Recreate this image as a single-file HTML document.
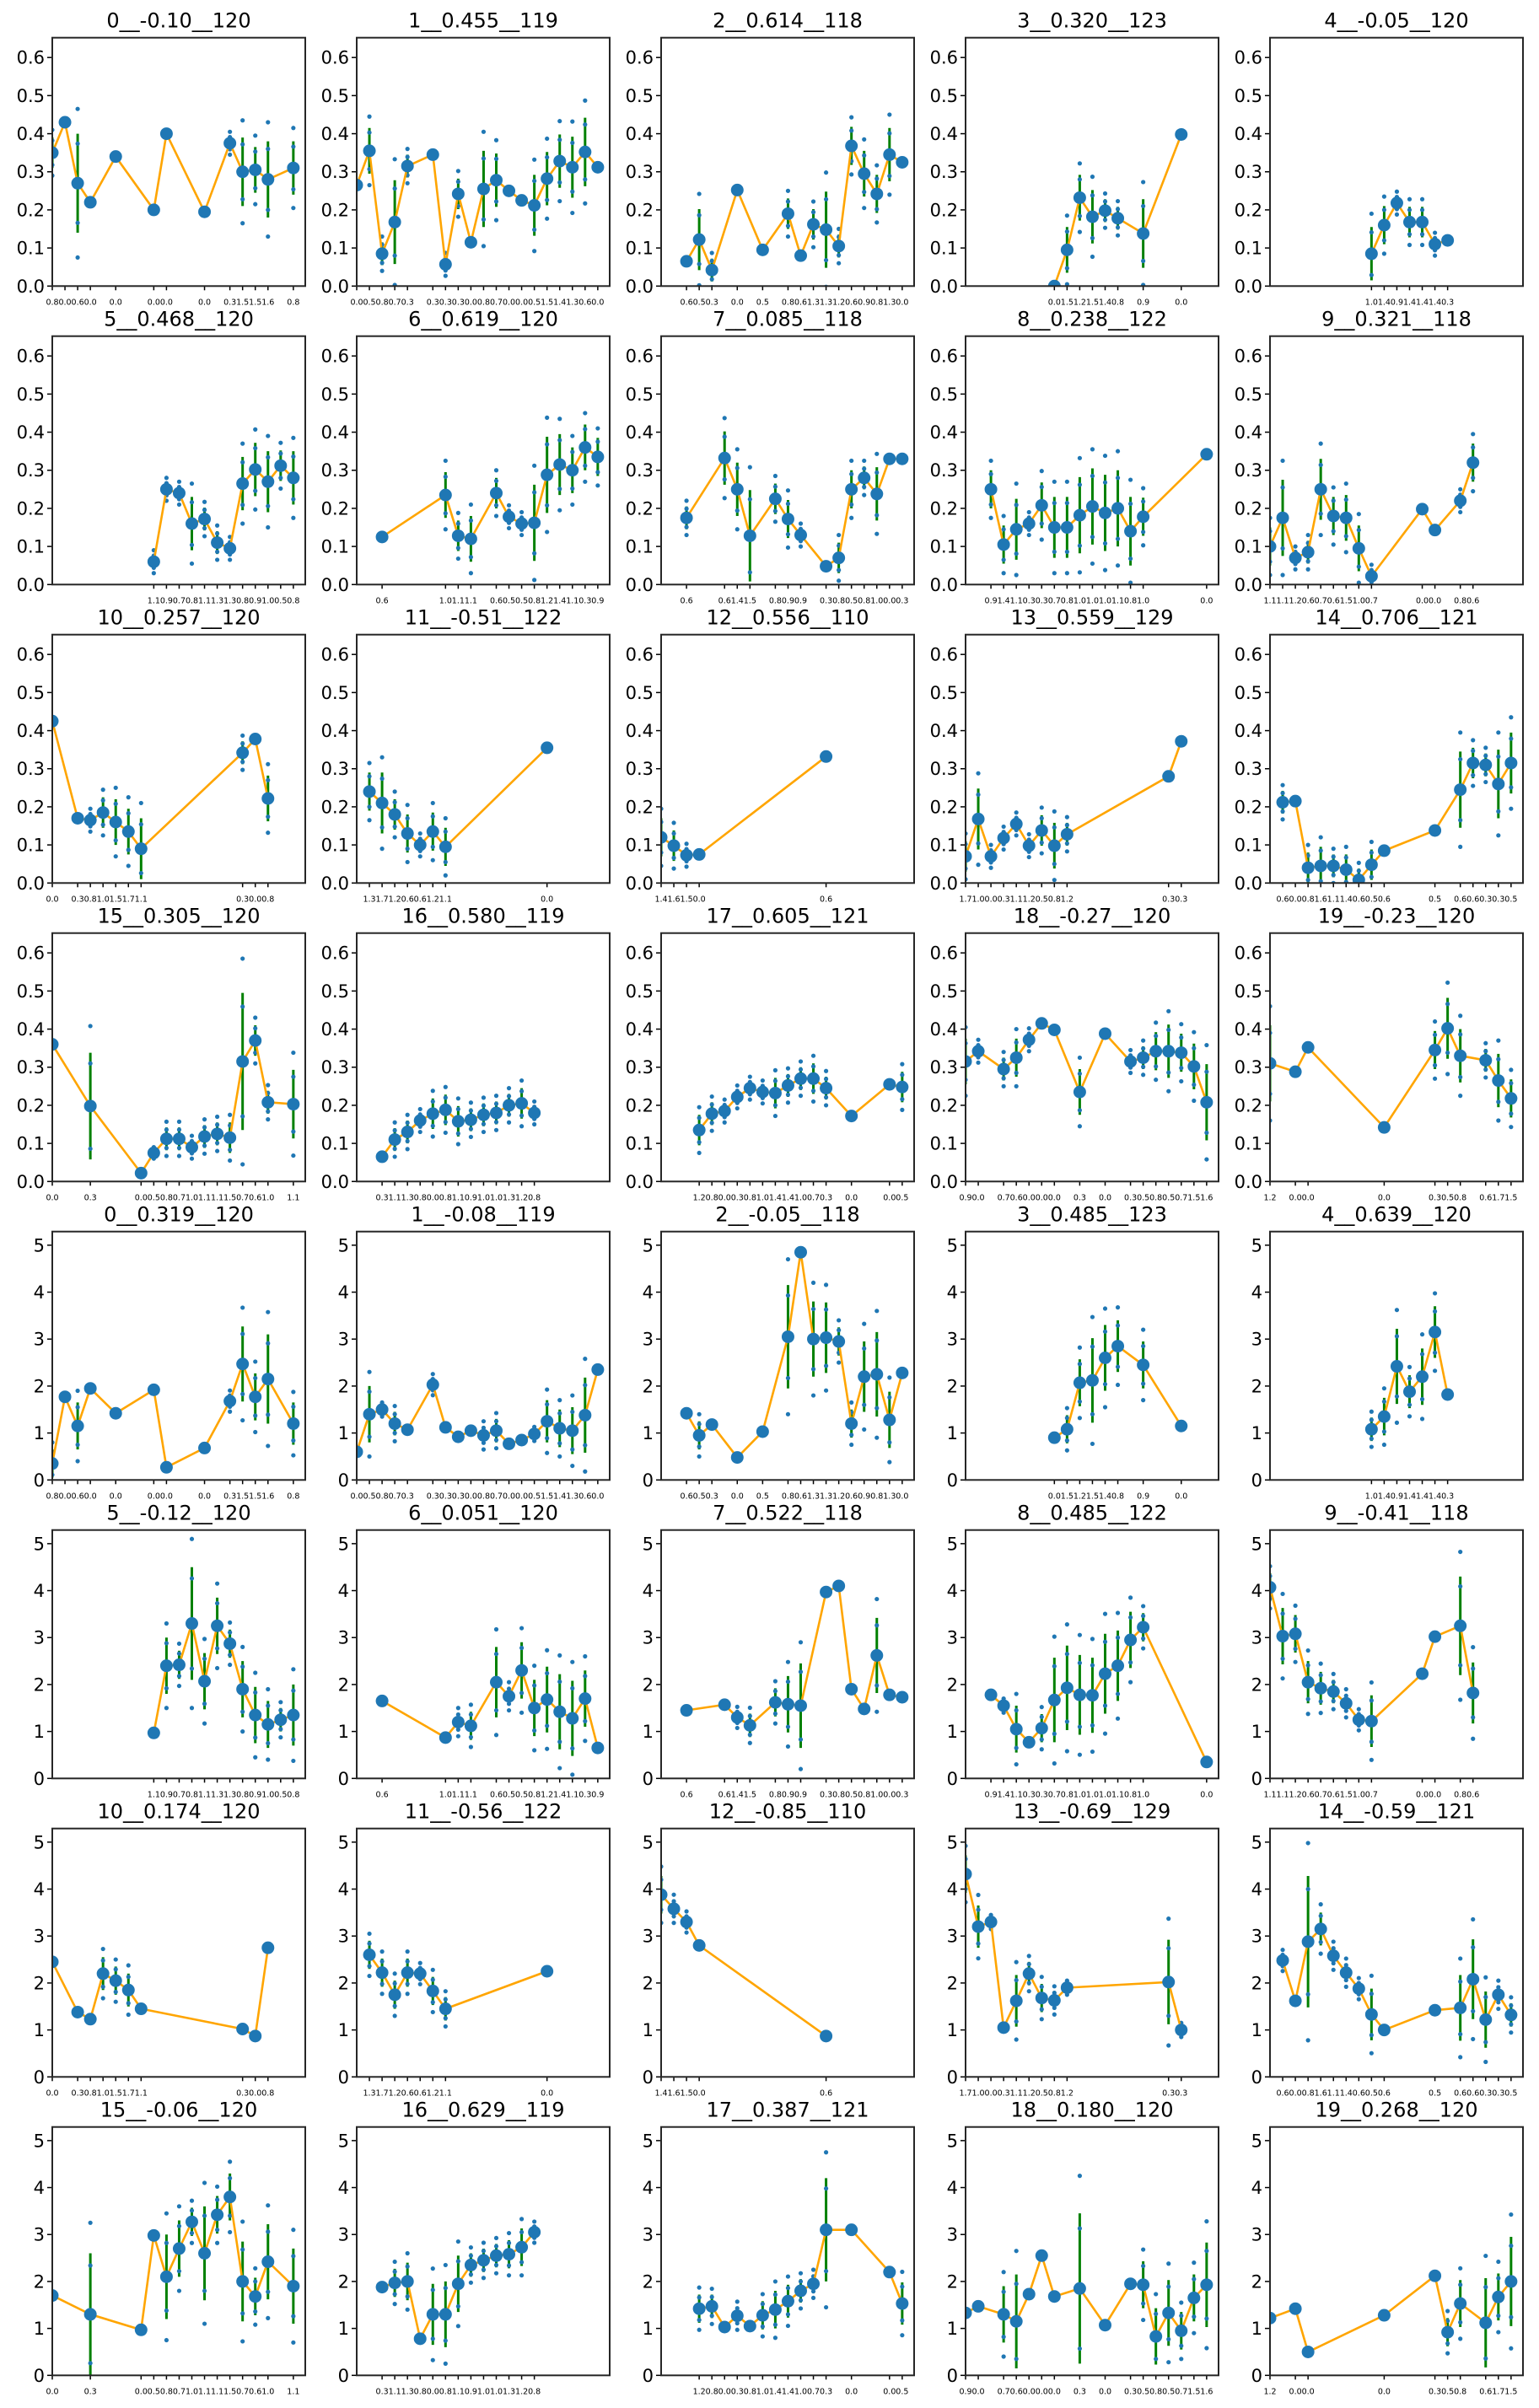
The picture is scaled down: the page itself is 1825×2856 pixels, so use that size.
<!DOCTYPE html>
<html><head><meta charset="utf-8">
<style>
html,body{margin:0;padding:0;background:#fff;}
svg{display:block;font-family:"DejaVu Sans","Liberation Sans",sans-serif;}
</style></head>
<body>
<svg id="fig" width="1825" height="2856" viewBox="0 0 1825 2856" xmlns="http://www.w3.org/2000/svg"></svg>
<script>
// ---- shared x slots and tick labels per panel index ----
const slots = [
 [0,1,2,3,5,8,9,12,14,15,16,17,19],
 [0,1,2,3,4,6,7,8,9,10,11,12,13,14,15,16,17,18,19],
 [2,3,4,6,8,10,11,12,13,14,15,16,17,18,19],
 [7,8,9,10,11,12,14,17],
 [8,9,10,11,12,13,14],
 [8,9,10,11,12,13,14,15,16,17,18,19],
 [2,7,8,9,11,12,13,14,15,16,17,18,19],
 [2,5,6,7,9,10,11,13,14,15,16,17,18,19],
 [2,3,4,5,6,7,8,9,10,11,12,13,14,19],
 [0,1,2,3,4,5,6,7,8,12,13,15,16],
 [0,2,3,4,5,6,7,15,16,17],
 [1,2,3,4,5,6,7,15],
 [0,1,2,3,13],
 [0,1,2,3,4,5,6,7,8,16,17],
 [1,2,3,4,5,6,7,8,9,13,15,16,17,18,19],
 [0,3,7,8,9,10,11,12,13,14,15,16,17,19],
 [2,3,4,5,6,7,8,9,10,11,12,13,14],
 [3,4,5,6,7,8,9,10,11,12,13,15,18,19],
 [0,1,3,4,5,6,7,9,11,13,14,15,16,17,18,19],
 [0,2,3,9,13,14,15,17,18,19]
];
const tickLabels = [
 ["0.8","0.0","0.6","0.0","0.0","0.0","0.0","0.0","0.3","1.5","1.5","1.6","0.8"],
 ["0.0","0.5","0.8","0.7","0.3","0.3","0.3","0.3","0.0","0.8","0.7","0.0","0.0","0.5","1.5","1.4","1.3","0.6","0.0"],
 ["0.6","0.5","0.3","0.0","0.5","0.8","0.6","1.3","1.3","1.2","0.6","0.9","0.8","1.3","0.0"],
 ["0.0","1.5","1.2","1.5","1.4","0.8","0.9","0.0"],
 ["1.0","1.4","0.9","1.4","1.4","1.4","0.3"],
 ["1.1","0.9","0.7","0.8","1.1","1.3","1.3","0.8","0.9","1.0","0.5","0.8"],
 ["0.6","1.0","1.1","1.1","0.6","0.5","0.5","0.8","1.2","1.4","1.1","0.3","0.9"],
 ["0.6","0.6","1.4","1.5","0.8","0.9","0.9","0.3","0.8","0.5","0.8","1.0","0.0","0.3"],
 ["0.9","1.4","1.1","0.3","0.3","0.7","0.8","1.0","1.0","1.0","1.1","0.8","1.0","0.0"],
 ["1.1","1.1","1.2","0.6","0.7","0.6","1.5","1.0","0.7","0.0","0.0","0.8","0.6"],
 ["0.0","0.3","0.8","1.0","1.5","1.7","1.1","0.3","0.0","0.8"],
 ["1.3","1.7","1.2","0.6","0.6","1.2","1.1","0.0"],
 ["1.4","1.6","1.5","0.0","0.6"],
 ["1.7","1.0","0.0","0.3","1.1","1.2","0.5","0.8","1.2","0.3","0.3"],
 ["0.6","0.0","0.8","1.6","1.1","1.4","0.6","0.5","0.6","0.5","0.6","0.6","0.3","0.3","0.5"],
 ["0.0","0.3","0.0","0.5","0.8","0.7","1.0","1.1","1.1","1.5","0.7","0.6","1.0","1.1"],
 ["0.3","1.1","1.3","0.8","0.0","0.8","1.1","0.9","1.0","1.0","1.3","1.2","0.8"],
 ["1.2","0.8","0.0","0.3","0.8","1.0","1.4","1.4","1.0","0.7","0.3","0.0","0.0","0.5"],
 ["0.9","0.0","0.7","0.6","0.0","0.0","0.0","0.3","0.0","0.3","0.5","0.8","0.5","0.7","1.5","1.6"],
 ["1.2","0.0","0.0","0.0","0.3","0.5","0.8","0.6","1.7","1.5"]
];
// ---- top block (ratio) titles, means, error half-widths ----
const topTitles = ["0__-0.10__120","1__0.455__119","2__0.614__118","3__0.320__123","4__-0.05__120","5__0.468__120","6__0.619__120","7__0.085__118","8__0.238__122","9__0.321__118","10__0.257__120","11__-0.51__122","12__0.556__110","13__0.559__129","14__0.706__121","15__0.305__120","16__0.580__119","17__0.605__121","18__-0.27__120","19__-0.23__120"];
const topMeans = [
 [0.35,0.43,0.27,0.22,0.34,0.20,0.40,0.195,0.375,0.30,0.305,0.28,0.31],
 [0.265,0.355,0.085,0.168,0.315,0.345,0.057,0.242,0.115,0.255,0.278,0.25,0.225,0.212,0.282,0.328,0.312,0.352,0.312],
 [0.065,0.122,0.042,0.252,0.095,0.19,0.08,0.162,0.148,0.105,0.368,0.295,0.242,0.345,0.325],
 [0.0,0.095,0.232,0.182,0.198,0.178,0.138,0.398],
 [0.085,0.16,0.218,0.168,0.168,0.11,0.12],
 [0.06,0.25,0.24,0.16,0.172,0.11,0.095,0.265,0.302,0.27,0.312,0.28],
 [0.125,0.235,0.128,0.12,0.24,0.178,0.16,0.162,0.288,0.315,0.30,0.36,0.335],
 [0.175,0.332,0.25,0.128,0.225,0.172,0.13,0.048,0.07,0.25,0.28,0.238,0.33,0.33],
 [0.25,0.105,0.145,0.16,0.208,0.15,0.15,0.182,0.205,0.188,0.20,0.14,0.178,0.342],
 [0.10,0.175,0.07,0.085,0.25,0.18,0.175,0.095,0.022,0.198,0.143,0.22,0.32],
 [0.425,0.17,0.165,0.185,0.16,0.135,0.09,0.342,0.378,0.222],
 [0.24,0.21,0.18,0.13,0.10,0.135,0.095,0.355],
 [0.12,0.098,0.073,0.075,0.332],
 [0.07,0.168,0.07,0.118,0.155,0.098,0.138,0.098,0.128,0.28,0.372],
 [0.212,0.215,0.04,0.045,0.045,0.035,0.008,0.048,0.085,0.138,0.245,0.315,0.31,0.26,0.315],
 [0.36,0.198,0.022,0.075,0.112,0.112,0.09,0.118,0.125,0.115,0.315,0.37,0.208,0.203],
 [0.065,0.11,0.13,0.16,0.178,0.188,0.158,0.162,0.175,0.18,0.20,0.205,0.18],
 [0.135,0.178,0.185,0.222,0.245,0.235,0.232,0.252,0.27,0.27,0.245,0.172,0.255,0.248],
 [0.315,0.342,0.295,0.325,0.372,0.415,0.398,0.235,0.388,0.315,0.325,0.342,0.342,0.338,0.302,0.208],
 [0.31,0.288,0.352,0.142,0.345,0.402,0.33,0.318,0.265,0.218]
];
const topErr = [
 [0.04,0,0.13,0,0,0,0,0,0.02,0.09,0.06,0.1,0.07],
 [0,0.06,0.03,0.11,0.03,0,0.02,0.04,0,0.1,0.07,0,0,0.08,0.07,0.07,0.08,0.09,0],
 [0,0.08,0.03,0,0,0.04,0,0.04,0.1,0.03,0.05,0.06,0.05,0.07,0],
 [0,0.06,0.06,0.07,0.03,0.03,0.09,0],
 [0.07,0.05,0.02,0.04,0.04,0.02,0],
 [0.02,0.02,0.02,0.07,0.03,0.03,0.02,0.07,0.07,0.08,0.04,0.07],
 [0,0.06,0.04,0.06,0.04,0.02,0.02,0.1,0.1,0.08,0.06,0.06,0.05],
 [0.03,0.07,0.07,0.12,0.04,0.05,0.02,0,0.04,0.05,0.03,0.07,0,0],
 [0.05,0.05,0.08,0.02,0.06,0.08,0.08,0.1,0.1,0.1,0.1,0.09,0.05,0],
 [0.05,0.1,0.02,0.03,0.08,0.05,0.06,0.06,0.02,0,0,0.02,0.05],
 [0,0,0.02,0.04,0.06,0.06,0.08,0.03,0,0.06],
 [0.05,0.08,0.04,0.05,0.02,0.05,0.05,0],
 [0.05,0.04,0.02,0,0],
 [0.04,0.08,0.02,0.02,0.02,0.02,0.04,0.06,0.03,0,0],
 [0.03,0,0.04,0.05,0.03,0.04,0.03,0.04,0,0,0.1,0.04,0.03,0.09,0.08],
 [0,0.14,0,0.01,0.03,0.03,0.02,0.03,0.03,0.04,0.18,0.04,0.03,0.09],
 [0,0.03,0.03,0.02,0.04,0.04,0.04,0.03,0.03,0.03,0.03,0.04,0.02],
 [0.04,0.03,0.02,0.02,0.02,0.02,0.04,0.03,0.03,0.04,0.03,0,0,0.04],
 [0.06,0.02,0.03,0.05,0.02,0,0,0.06,0,0.02,0.03,0.05,0.07,0.05,0.06,0.1],
 [0.1,0,0,0,0.05,0.08,0.07,0.03,0.07,0.05]
];
// ---- bottom block ----
const botTitles = ["0__0.319__120","1__-0.08__119","2__-0.05__118","3__0.485__123","4__0.639__120","5__-0.12__120","6__0.051__120","7__0.522__118","8__0.485__122","9__-0.41__118","10__0.174__120","11__-0.56__122","12__-0.85__110","13__-0.69__129","14__-0.59__121","15__-0.06__120","16__0.629__119","17__0.387__121","18__0.180__120","19__0.268__120"];
const botMeans = [
 [0.35,1.77,1.15,1.95,1.42,1.92,0.27,0.68,1.68,2.47,1.77,2.15,1.2],
 [0.6,1.4,1.5,1.2,1.07,2.03,1.12,0.92,1.05,0.95,1.05,0.77,0.85,0.98,1.25,1.1,1.05,1.38,2.35],
 [1.42,0.95,1.18,0.48,1.03,3.05,4.85,3.0,3.03,2.95,1.2,2.2,2.25,1.28,2.28],
 [0.9,1.08,2.07,2.12,2.6,2.85,2.45,1.15],
 [1.08,1.35,2.42,1.88,2.2,3.15,1.82],
 [0.97,2.4,2.42,3.3,2.07,3.25,2.87,1.9,1.35,1.15,1.25,1.35],
 [1.65,0.87,1.2,1.12,2.05,1.75,2.3,1.5,1.68,1.42,1.28,1.7,0.65],
 [1.45,1.57,1.3,1.13,1.62,1.58,1.55,3.97,4.1,1.9,1.48,2.62,1.78,1.73],
 [1.78,1.55,1.05,0.77,1.07,1.67,1.93,1.78,1.77,2.23,2.4,2.95,3.22,0.35],
 [4.07,3.03,3.08,2.05,1.92,1.85,1.6,1.25,1.22,2.23,3.02,3.25,1.82],
 [2.45,1.38,1.23,2.2,2.05,1.85,1.45,1.02,0.87,2.75],
 [2.6,2.22,1.75,2.22,2.2,1.83,1.45,2.25],
 [3.88,3.58,3.3,2.8,0.87],
 [4.32,3.2,3.3,1.05,1.62,2.2,1.68,1.63,1.9,2.02,1.0],
 [2.48,1.62,2.88,3.15,2.58,2.22,1.88,1.33,1.0,1.42,1.47,2.08,1.22,1.75,1.32],
 [1.7,1.3,0.97,2.98,2.1,2.7,3.27,2.6,3.42,3.8,2.0,1.68,2.42,1.9],
 [1.88,1.97,2.0,0.78,1.3,1.3,1.95,2.35,2.45,2.55,2.58,2.73,3.05],
 [1.42,1.47,1.03,1.27,1.05,1.28,1.4,1.58,1.8,1.95,3.1,3.1,2.2,1.53],
 [1.33,1.47,1.3,1.15,1.73,2.55,1.68,1.85,1.07,1.95,1.93,0.83,1.33,0.95,1.65,1.93],
 [1.22,1.42,0.5,1.28,2.12,0.92,1.53,1.12,1.67,2.0]
];
const botErr = [
 [0.3,0,0.5,0,0,0,0,0,0.15,0.8,0.5,0.95,0.45],
 [0,0.6,0.1,0.25,0,0.15,0,0,0,0.2,0.25,0,0,0.1,0.45,0.4,0.5,0.8,0],
 [0,0.3,0,0,0,1.1,0,0.8,0.75,0.3,0.3,0.75,0.9,0.6,0],
 [0,0.3,0.5,0.9,0.7,0.55,0.5,0],
 [0.25,0.4,0.8,0.35,0.6,0.55,0],
 [0,0.6,0.3,1.2,0.6,0.6,0.3,0.6,0.6,0.5,0.25,0.65],
 [0,0,0.2,0.3,0.75,0.2,0.6,0.6,0.7,0.8,0.8,0.6,0],
 [0,0,0.15,0.25,0.3,0.6,0.9,0,0,0,0,0.8,0,0],
 [0.05,0.1,0.5,0.05,0.3,0.9,0.9,0.85,0.8,0.85,0.75,0.6,0.3,0],
 [0.3,0.6,0.4,0.45,0.35,0.25,0.2,0.15,0.55,0,0.05,1.05,0.65],
 [0,0,0,0.35,0.3,0.35,0,0,0,0],
 [0.3,0.3,0.3,0.3,0.15,0.3,0.25,0],
 [0.4,0.2,0.15,0,0],
 [0.4,0.45,0.1,0,0.55,0.25,0.3,0.2,0.1,0.9,0.1],
 [0.15,0,1.4,0.35,0.2,0.2,0.15,0.55,0,0,0.7,0.85,0.6,0.2,0.25],
 [0,1.3,0,0,0.9,0.6,0.3,1.0,0.4,0.5,0.85,0.4,0.8,0.8],
 [0,0.3,0.4,0,0.65,0.7,0.6,0.25,0.25,0.25,0.3,0.4,0.15],
 [0.3,0.25,0,0.2,0,0.3,0.4,0.35,0.25,0.2,1.1,0,0,0.45],
 [0,0,0.6,1.0,0,0,0,1.6,0,0,0.5,0.6,0.7,0.4,0.5,0.9],
 [0,0,0,0,0,0.3,0.5,0.95,0.5,0.95]
];
const topYTicks = ["0.0","0.1","0.2","0.3","0.4","0.5","0.6"];
const botYTicks = ["0","1","2","3","4","5"];

const NS = "http://www.w3.org/2000/svg";
const fig = document.getElementById('fig');
function mk(tag, attrs, parent){
  const e = document.createElementNS(NS, tag);
  for (const k in attrs) e.setAttribute(k, attrs[k]);
  (parent||fig).appendChild(e); return e;
}
const AX_W = 300, AX_H = 294.6, XMAX = 19.94;
const dotPattern = [-1.5,-0.8,0.8,1.5];

function drawPanel(row, col, idx, title, means, errs, ymax, yTicks, yStep, pname){
  const L = 62 + col*361, T = 44.7 + row*354;
  const xs = s => L + s*AX_W/XMAX;
  const ys = v => T + AX_H - v/ymax*AX_H;
  const g = mk('g', {});
  
  
  const t = mk('text', {x: L+AX_W/2, y: T-12, 'text-anchor':'middle', 'font-size':24, fill:'#000'}, g);
  t.textContent = title;
  
  
  yTicks.forEach((lab,i)=>{
    const y = ys(i*yStep);
    mk('line',{x1:L-6,x2:L,y1:y,y2:y,stroke:'#000','stroke-width':1.5},g);
    const tt = mk('text',{x:L-9,y:y+7.5,'text-anchor':'end','font-size':21,fill:'#000'},g);
    tt.textContent = lab;
    
    
  });
  const sl = slots[idx], labs = tickLabels[idx];
  sl.forEach((s,i)=>{
    const x = xs(s);
    mk('line',{x1:x,x2:x,y1:T+AX_H,y2:T+AX_H+5,stroke:'#000','stroke-width':1.5},g);
    const tt = mk('text',{x:x,y:T+AX_H+22,'text-anchor':'middle','font-size':9.5,fill:'#000'},g);
    tt.textContent = labs[i];
    
    
  });
  const clip = 'c'+row+'_'+col;
  const cp = mk('clipPath',{id:clip},g);
  mk('rect',{x:L,y:T,width:AX_W,height:AX_H},cp);
  const pg = mk('g',{'clip-path':'url(#'+clip+')'},g);
  means.forEach((m,i)=>{
    const e = errs[i]; if(!e) return;
    const eb = mk('line',{x1:xs(sl[i]),x2:xs(sl[i]),y1:ys(m-e),y2:ys(m+e),stroke:'#008000','stroke-width':3},pg);
    
    
  });
  means.forEach((m,i)=>{
    const e = errs[i]; if(!e) return;
    dotPattern.forEach(k=>{
      const d = mk('circle',{cx:xs(sl[i]),cy:ys(m+k*e),r:2.6,fill:'#1f77b4'},pg);
      
      
    });
  });
  const pts = means.map((m,i)=>xs(sl[i]).toFixed(1)+','+ys(m).toFixed(1)).join(' ');
  const pl = mk('polyline',{points:pts,fill:'none',stroke:'#ffa500','stroke-width':2.6},pg);
  
  
  means.forEach((m,i)=>{
    const c = mk('circle',{cx:xs(sl[i]),cy:ys(m),r:7.5,fill:'#1f77b4'},pg);
    
    
  });
  const fr = mk('rect',{x:L,y:T,width:AX_W,height:AX_H,fill:'none',stroke:'#262626','stroke-width':2},g);
  
  
}
for(let i=0;i<20;i++){
  drawPanel(Math.floor(i/5), i%5, i, topTitles[i], topMeans[i], topErr[i], 0.652, topYTicks, 0.1, 'ratio-panel-'+i);
  drawPanel(4+Math.floor(i/5), i%5, i, botTitles[i], botMeans[i], botErr[i], 5.29, botYTicks, 1, 'value-panel-'+i);
}
</script>
</body></html>
